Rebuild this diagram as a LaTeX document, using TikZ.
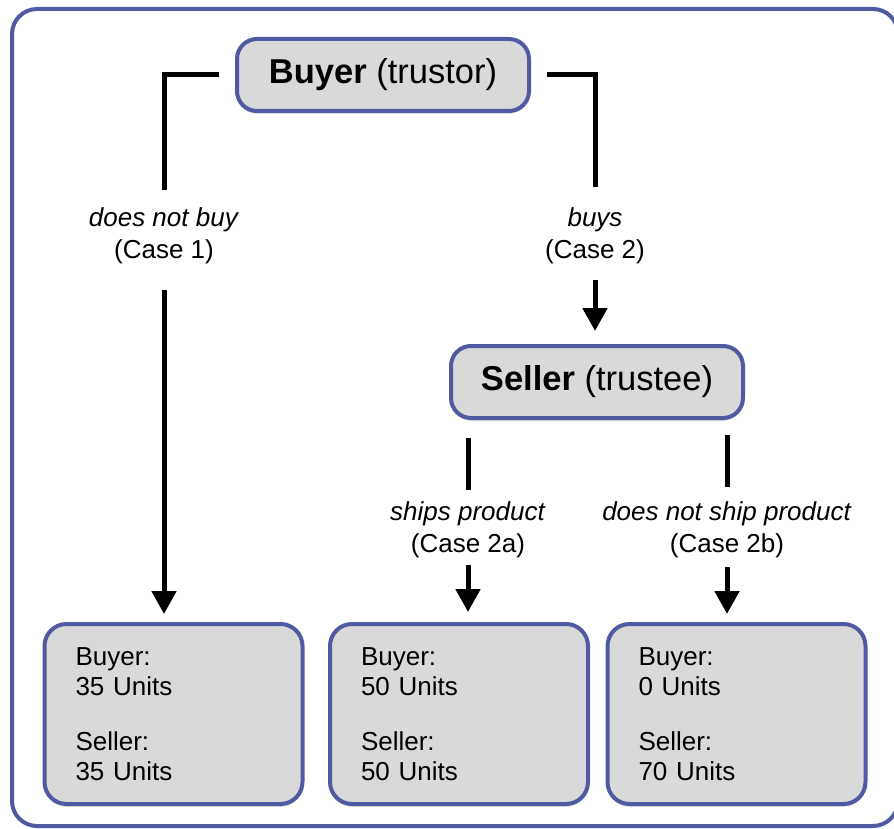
\documentclass[tikz,border=0pt]{standalone}
\usepackage{fontspec}
\setmainfont{Liberation Sans}
\usetikzlibrary{arrows.meta}
\usetikzlibrary{shadows}
\usetikzlibrary{calc}

\definecolor{frameblue}{RGB}{80,90,160}
\definecolor{boxgrey}{RGB}{217,217,217}

\tikzset{
  player/.style={draw=frameblue, fill=boxgrey, line width=4pt, rounded corners=20pt,
    minimum width=292pt, minimum height=72pt, inner sep=0pt,
    font=\fontsize{34.5}{40}\selectfont,
    drop shadow={opacity=0.25, shadow xshift=0pt, shadow yshift=-3pt}},
  payoff/.style={draw=frameblue, fill=boxgrey, line width=4pt, rounded corners=22pt,
    text width=196pt, inner xsep=31pt, inner ysep=0pt, minimum height=180pt, align=left,
    font=\fontsize{26}{30}\selectfont,
    drop shadow={opacity=0.25, shadow xshift=0pt, shadow yshift=-3pt}},
  choice/.style={align=center, inner sep=0pt, font=\fontsize{26}{32}\selectfont},
  link/.style={line width=5pt},
  linkarrow/.style={line width=5pt, -{Triangle[width=24pt,length=23pt]}},
}

\begin{document}
\begin{tikzpicture}[x=1pt,y=-1pt]
            \useasboundingbox (0,0) rectangle (894,829);
            \clip (0,0) rectangle (894,829);

            % Outer frame
            \draw[frameblue, line width=4pt, rounded corners=25pt] (12,9) rectangle (898,826);

            % Players
            \node[player] (buyer) at (383,75) {\textbf{Buyer} (trustor)};
            \node[player] (seller) at (597,382) {\textbf{Seller} (trustee)};

            % Choices
            \node[choice] (nobuy) at (164,236) {\textit{does not buy}\\(Case 1)};
            \node[choice] (buys) at (595,236) {\textit{buys}\\(Case 2)};
            \node[choice] (ships) at (468,530) {\textit{ships product}\\(Case 2a)};
            \node[choice] (noship) at (727,530) {\textit{does not ship product}\\(Case 2b)};

            % Payoffs
            \node[payoff] (case1) at (173.5,714) {Buyer:\\35 Units\\[25pt]Seller:\\35 Units};
            \node[payoff] (case2a) at (459,714) {Buyer:\\50 Units\\[25pt]Seller:\\50 Units};
            \node[payoff] (case2b) at (736.5,714) {Buyer:\\0 Units\\[25pt]Seller:\\70 Units};

            % Buyer's move
            \draw[link, shorten <=16pt, shorten >=18pt] (buyer.west) -| (nobuy.north);
            \draw[link, shorten <=16pt, shorten >=21pt] (buyer.east) -| (buys.north);
            \draw[linkarrow, shorten <=26pt, shorten >=8pt] (nobuy.south) -- (nobuy.south |- case1.north);
            \draw[linkarrow, shorten <=16pt, shorten >=13pt] (buys.south) -- (buys.south |- seller.north);

            % Seller's move
            \draw[link, shorten <=18pt, shorten >=12pt] (ships.north |- seller.south) -- (ships.north);
            \draw[link, shorten <=15pt, shorten >=15pt] (noship.north |- seller.south) -- (noship.north);
            \draw[linkarrow, shorten <=7pt, shorten >=10pt] (ships.south) -- (ships.south |- case2a.north);
            \draw[linkarrow, shorten <=9pt, shorten >=8pt] (noship.south) -- (noship.south |- case2b.north);
        \end{tikzpicture}
\end{document}
